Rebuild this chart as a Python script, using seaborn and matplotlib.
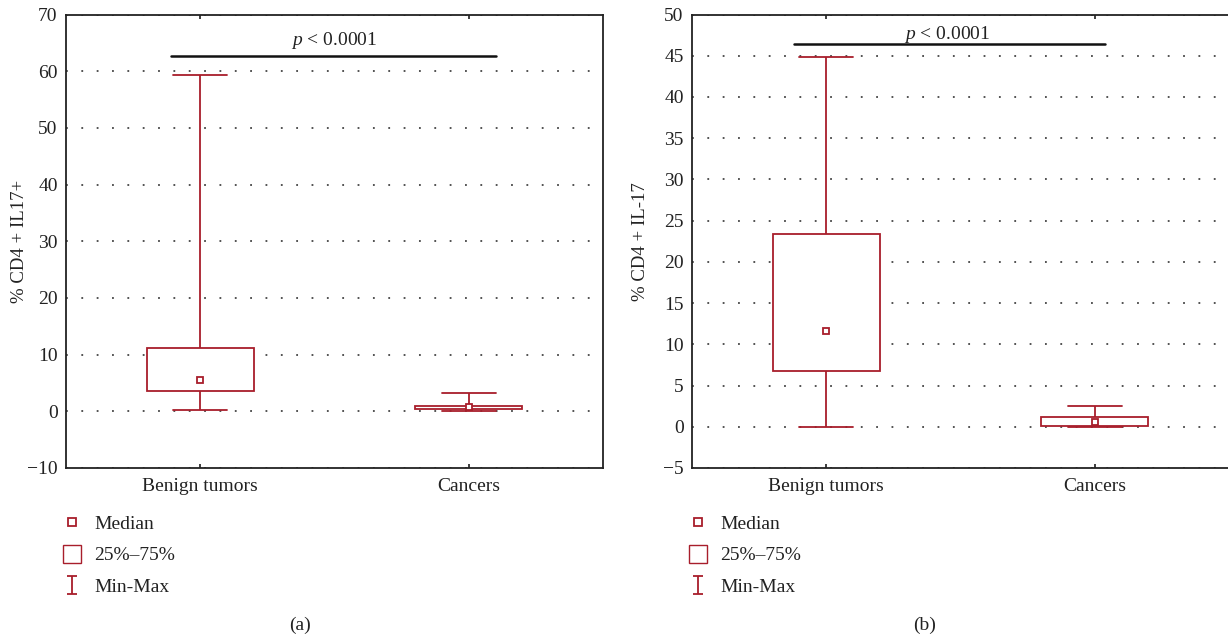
import numpy as np
import pandas as pd
import seaborn as sns
import matplotlib.pyplot as plt
from matplotlib.lines import Line2D
from matplotlib.path import Path

# 1. Data (five-number summaries)
groups = ['Benign tumors', 'Cancers']

a_min = [0.25, 0.0]
a_q1 = [3.5, 0.4]
a_med = [5.5, 0.75]
a_q3 = [11.25, 1.0]
a_max = [59.4, 3.2]

b_min = [0.0, 0.0]
b_q1 = [6.8, 0.15]
b_med = [11.65, 0.55]
b_q3 = [23.4, 1.2]
b_max = [44.8, 2.5]

a_ylabel = '% CD4 + IL17+'
b_ylabel = '% CD4 + IL-17'
p_text = '$p$ < 0.0001'
legend_labels = ['Median', '25%\u201375%', 'Min-Max']

RED = '#a81e2b'
FONT = 'Liberation Serif'
FS = 14

sns.set_theme(style='white')
plt.rcParams['font.family'] = [FONT, 'DejaVu Serif']
plt.rcParams['mathtext.fontset'] = 'custom'
plt.rcParams['mathtext.rm'] = FONT
plt.rcParams['mathtext.it'] = FONT + ':italic'


def summary_frame(mins, q1s, meds, q3s, maxs):
    # five values per group -> linear percentiles give exactly q1/median/q3
    rows = []
    for g, lo, q1, md, q3, hi in zip(groups, mins, q1s, meds, q3s, maxs):
        for v in (lo, q1, md, q3, hi):
            rows.append({'group': g, 'value': v})
    return pd.DataFrame(rows)


def draw_panel(ax, df, ylim, yticks, ylabel, sig_x, sig_y, text_x, text_y, label_x):
    sns.boxplot(data=df, x='group', y='value', whis=(0, 100), width=0.4,
                color='white', linecolor=RED, linewidth=1.3, showfliers=False,
                medianprops={'visible': False}, ax=ax)
    sns.pointplot(data=df, x='group', y='value', estimator='median', errorbar=None,
                  linestyle='none', marker='s', color=RED, markersize=5,
                  markerfacecolor='white', markeredgecolor=RED, markeredgewidth=1.3,
                  zorder=5, ax=ax)
    ax.set_xlim(-0.5, 1.5)
    ax.set_ylim(*ylim)
    ax.set_yticks(yticks)
    ax.set_xlabel('')
    ax.set_ylabel(ylabel, fontsize=FS - 0.5, color='#222222')
    ax.yaxis.set_label_coords(label_x, 0.5)
    ax.set_axisbelow(True)
    ax.yaxis.grid(True, linestyle=(0, (1, 7.5)), linewidth=1.3, color='#444444')
    ax.xaxis.grid(False)
    for s in ax.spines.values():
        s.set_visible(True)
        s.set_color('#222222')
        s.set_linewidth(1.3)
    ax.tick_params(axis='x', direction='in', length=3, top=True, bottom=True,
                   labelsize=FS, labelcolor='#222222', pad=7)
    ax.tick_params(axis='y', direction='in', length=0, labelsize=FS,
                   labelcolor='#222222', pad=6)
    ax.plot(sig_x, [sig_y, sig_y], color='#111111', linewidth=1.8)
    ax.text(text_x, text_y, p_text, ha='center', va='center', fontsize=FS,
            color='#222222')


fig = plt.figure(figsize=(12.28, 6.41), dpi=100)
ax_a = fig.add_axes([66 / 1228, 1 - 468 / 641, 537 / 1228, 453.5 / 641])
ax_b = fig.add_axes([692 / 1228, 1 - 468 / 641, 537 / 1228, 453.5 / 641])

draw_panel(ax_a, summary_frame(a_min, a_q1, a_med, a_q3, a_max), (-10, 70),
           np.arange(-10, 71, 10), a_ylabel, [-0.11, 1.10], 62.7, 0.5, 65.5, -0.07)
draw_panel(ax_b, summary_frame(b_min, b_q1, b_med, b_q3, b_max), (-5, 50),
           np.arange(-5, 51, 5), b_ylabel, [-0.12, 1.04], 46.4, 0.45, 47.6, -0.08)

# 2. Legends below each panel
ibeam = Path([(-0.5, 1), (0.5, 1), (0, 1), (0, -1), (-0.5, -1), (0.5, -1)],
             [Path.MOVETO, Path.LINETO, Path.MOVETO, Path.LINETO, Path.MOVETO, Path.LINETO])
handles = [
    Line2D([0], [0], marker='s', linestyle='None', markersize=6,
           markerfacecolor='white', markeredgecolor=RED, markeredgewidth=1.3),
    Line2D([0], [0], marker='s', linestyle='None', markersize=13,
           markerfacecolor='white', markeredgecolor=RED, markeredgewidth=1.0),
    Line2D([0], [0], marker=ibeam, linestyle='None', markersize=13,
           markerfacecolor='none', markeredgecolor=RED, markeredgewidth=1.3),
]
for x0 in (62 / 1228, 688 / 1228):
    fig.legend(handles=handles, labels=legend_labels, loc='upper left',
               bbox_to_anchor=(x0, 1 - 515 / 641), frameon=False, fontsize=FS,
               handlelength=1.0, handletextpad=0.65, labelspacing=0.73,
               borderpad=0, borderaxespad=0, labelcolor='#222222')

fig.text(300 / 1228, 1 - 625 / 641, '(a)', ha='center', va='center', fontsize=FS,
         color='#222222')
fig.text(925 / 1228, 1 - 625 / 641, '(b)', ha='center', va='center', fontsize=FS,
         color='#222222')

fig.savefig('out.png', dpi=100)
